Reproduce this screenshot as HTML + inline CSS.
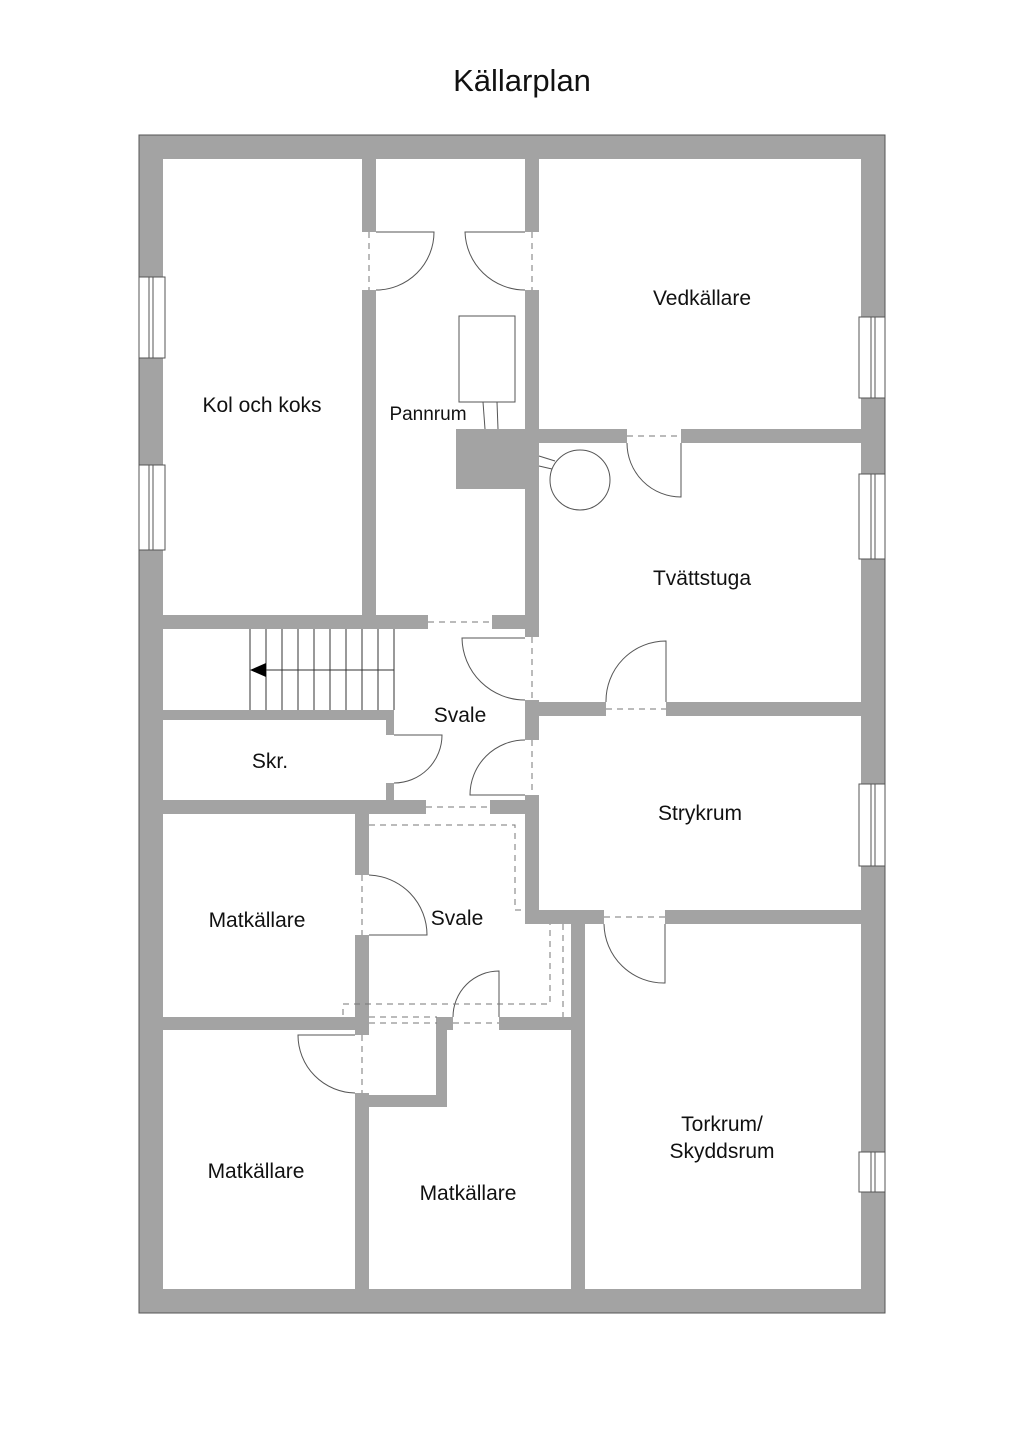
<!DOCTYPE html>
<html><head><meta charset="utf-8"><style>
html,body{margin:0;padding:0;background:#fff;}
svg{display:block;}
text{font-family:"Liberation Sans",sans-serif;fill:#111;}
</style></head><body>
<svg width="1024" height="1448" viewBox="0 0 1024 1448" xmlns="http://www.w3.org/2000/svg">
<rect width="1024" height="1448" fill="#fff"/>
<text x="522" y="91" font-size="31" text-anchor="middle">Källarplan</text>
<rect x="139" y="135" width="746" height="1178" fill="#a3a3a3" stroke="#555" stroke-width="1"/>
<g fill="#fff" stroke="none">
<rect x="163" y="159" width="199" height="456"/>
<rect x="376" y="159" width="149" height="456"/>
<rect x="362" y="232" width="14" height="58"/>
<rect x="525" y="232" width="14" height="58"/>
<rect x="539" y="159" width="322" height="270"/>
<rect x="539" y="443" width="322" height="259"/>
<rect x="627" y="429" width="54" height="14"/>
<rect x="428" y="615" width="64" height="14"/>
<rect x="163" y="629" width="362" height="81"/>
<rect x="394" y="710" width="131" height="90"/>
<rect x="163" y="720" width="223" height="80"/>
<rect x="386" y="735" width="8" height="48"/>
<rect x="525" y="637" width="14" height="63"/>
<rect x="525" y="740" width="14" height="55"/>
<rect x="606" y="702" width="60" height="14"/>
<rect x="539" y="716" width="322" height="194"/>
<rect x="426" y="800" width="64" height="14"/>
<rect x="369" y="814" width="156" height="203"/>
<rect x="525" y="924" width="46" height="93"/>
<rect x="163" y="814" width="192" height="203"/>
<rect x="355" y="875" width="14" height="60"/>
<rect x="604" y="910" width="61" height="14"/>
<rect x="585" y="924" width="276" height="365"/>
<rect x="369" y="1017" width="67" height="13"/>
<rect x="453" y="1017" width="46" height="13"/>
<rect x="369" y="1030" width="67" height="65"/>
<rect x="163" y="1030" width="192" height="259"/>
<rect x="355" y="1035" width="14" height="58"/>
<rect x="369" y="1107" width="202" height="182"/>
<rect x="447" y="1030" width="124" height="77"/>
</g>
<rect x="456" y="429" width="70" height="60" fill="#a3a3a3"/>
<g fill="none" stroke="#555" stroke-width="1">
<rect x="459" y="316" width="56" height="86"/>
<line x1="483" y1="402" x2="485" y2="429"/><line x1="497" y1="402" x2="498" y2="429"/>
<circle cx="580" cy="480" r="30"/>
<line x1="539" y1="456" x2="555" y2="461"/><line x1="539" y1="466" x2="552" y2="469"/>
<path d="M376,232 L434,232 A58,58 0 0,1 376,290"/>
<path d="M525,232 L465,232 A60,60 0 0,0 525,290"/>
<path d="M681,443 L681,497 A54,54 0 0,1 627,443"/>
<path d="M525,638 L462,638 A63,63 0 0,0 525,700"/>
<path d="M666,702 L666,641 A60,60 0 0,0 606,702"/>
<path d="M394,735 L442,735 A48,48 0 0,1 394,783"/>
<path d="M525,795 L470,795 A55,55 0 0,1 525,740"/>
<path d="M369,935 L427,935 A60,60 0 0,0 369,875"/>
<path d="M665,924 L665,983 A60,60 0 0,1 604,924"/>
<path d="M499,1017 L499,971 A46,46 0 0,0 453,1017"/>
<path d="M355,1035 L298,1035 A58,58 0 0,0 355,1093"/>
<g stroke="#333">
<line x1="250" y1="629" x2="250" y2="710"/><line x1="266" y1="629" x2="266" y2="710"/>
<line x1="282" y1="629" x2="282" y2="710"/><line x1="298" y1="629" x2="298" y2="710"/>
<line x1="314" y1="629" x2="314" y2="710"/><line x1="330" y1="629" x2="330" y2="710"/>
<line x1="346" y1="629" x2="346" y2="710"/><line x1="362" y1="629" x2="362" y2="710"/>
<line x1="378" y1="629" x2="378" y2="710"/><line x1="394" y1="629" x2="394" y2="710"/>
<line x1="258" y1="670" x2="394" y2="670"/>
</g>
</g>
<polygon points="250,670 266,663 266,677" fill="#000"/>
<g fill="none" stroke="#777" stroke-width="1" stroke-dasharray="6,5">
<line x1="369" y1="232" x2="369" y2="290"/>
<line x1="532" y1="232" x2="532" y2="290"/>
<line x1="627" y1="436" x2="681" y2="436"/>
<line x1="428" y1="622" x2="492" y2="622"/>
<line x1="532" y1="637" x2="532" y2="700"/>
<line x1="606" y1="709" x2="666" y2="709"/>
<line x1="532" y1="740" x2="532" y2="795"/>
<line x1="426" y1="807" x2="490" y2="807"/>
<line x1="362" y1="875" x2="362" y2="935"/>
<line x1="604" y1="917" x2="665" y2="917"/>
<polyline points="369,825 515,825 515,910 525,910"/>
<polyline points="343,1015 343,1004 550,1004 550,924"/>
<line x1="563" y1="924" x2="563" y2="1017"/>
<line x1="369" y1="1017" x2="437" y2="1017"/>
<line x1="369" y1="1023" x2="437" y2="1023"/>
<line x1="453" y1="1023" x2="499" y2="1023"/>
<line x1="362" y1="1035" x2="362" y2="1093"/>
</g>
<g fill="#fff" stroke="#555" stroke-width="1">
<rect x="139" y="277" width="26" height="81"/><rect x="149" y="277" width="4" height="81"/>
<rect x="139" y="465" width="26" height="85"/><rect x="149" y="465" width="4" height="85"/>
<rect x="859" y="317" width="26" height="81"/><rect x="871" y="317" width="4" height="81"/>
<rect x="859" y="474" width="26" height="85"/><rect x="871" y="474" width="4" height="85"/>
<rect x="859" y="784" width="26" height="82"/><rect x="871" y="784" width="4" height="82"/>
<rect x="859" y="1152" width="26" height="40"/><rect x="871" y="1152" width="4" height="40"/>
</g>
<g font-size="21" text-anchor="middle">
<text x="262" y="412">Kol och koks</text>
<text x="428" y="420" font-size="19">Pannrum</text>
<text x="702" y="305">Vedkällare</text>
<text x="702" y="585">Tvättstuga</text>
<text x="460" y="722">Svale</text>
<text x="270" y="768">Skr.</text>
<text x="700" y="820">Strykrum</text>
<text x="257" y="927">Matkällare</text>
<text x="457" y="925">Svale</text>
<text x="722" y="1131">Torkrum/</text>
<text x="722" y="1158">Skyddsrum</text>
<text x="256" y="1178">Matkällare</text>
<text x="468" y="1200">Matkällare</text>
</g>
</svg>
</body></html>
